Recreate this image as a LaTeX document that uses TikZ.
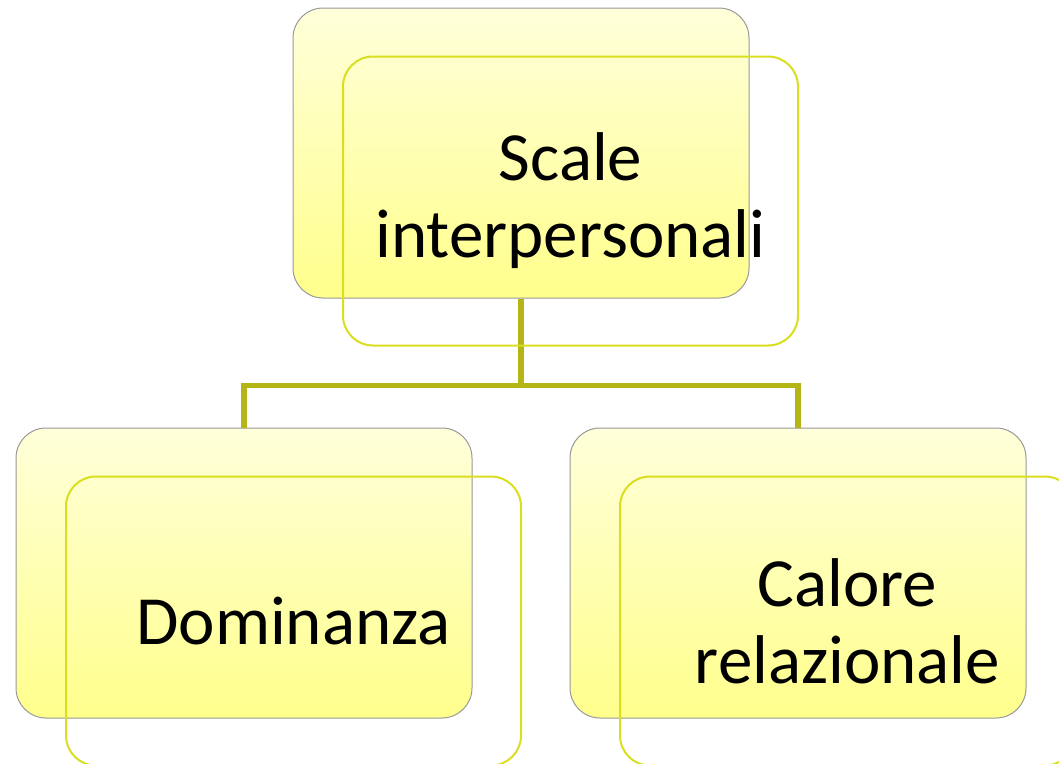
\documentclass[tikz,border=0pt]{standalone}
\usepackage{fontspec}
\setmainfont{Carlito}
\usetikzlibrary{positioning}

\definecolor{boxgray}{HTML}{989898}
\definecolor{boxtop}{HTML}{FFFFDA}
\definecolor{boxbottom}{HTML}{FFFF8C}
\definecolor{frameyellow}{HTML}{D9DE1E}
\definecolor{linkolive}{HTML}{B3B615}

\begin{document}
\begin{tikzpicture}[x=1pt, y=-1pt,
        backbox/.style={draw=boxgray, line width=1pt, rounded corners=30pt,
            top color=boxtop, bottom color=boxbottom,
            minimum width=456pt, minimum height=290pt, inner sep=0pt},
        frontbox/.style={draw=frameyellow, line width=2pt, rounded corners=30pt,
            minimum width=455pt, minimum height=289pt, inner sep=0pt,
            align=center, font=\fontsize{69}{77}\selectfont},
        link/.style={draw=linkolive, line width=5.5pt}]
        \useasboundingbox (0, 0) rectangle (1059, 763);

        % Shaded boxes
        \node[backbox] (scaleback) at (521, 153) {};
        \node[backbox] (domback) at (244, 573) {};
        \node[backbox] (calback) at (798, 573) {};

        % Tree links
        \draw[link] (scaleback.south) -- ++(0, 87) -| (domback.north);
        \draw[link] (scaleback.south) -- ++(0, 87) -| (calback.north);

        % Framed boxes with the labels
        \node[frontbox] (scale) at ([shift={(49.5, 48)}]scaleback.center) {Scale\\interpersonali};
        \node[frontbox] (dom) at ([shift={(49.5, 48)}]domback.center) {Dominanza};
        \node[frontbox] (cal) at ([shift={(49.5, 48)}]calback.center) {Calore\\relazionale};

    \end{tikzpicture}
\end{document}
